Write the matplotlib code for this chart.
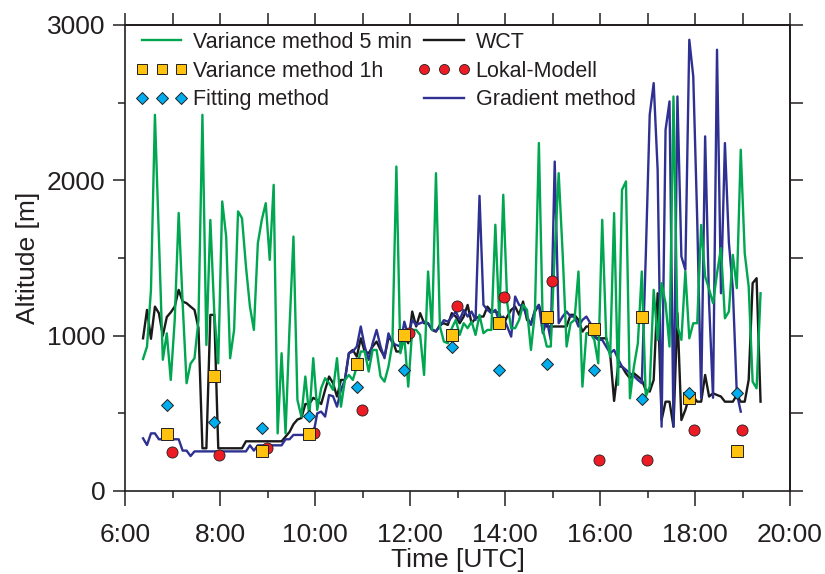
import matplotlib
matplotlib.use("Agg")
import matplotlib.pyplot as plt
from matplotlib import font_manager
from matplotlib.ticker import MultipleLocator, FuncFormatter
import numpy as np

# ---------------- data ----------------
t_start = 6.38          # hours UTC, first 5-min sample
step_h = 5 / 60.0       # 5-minute sampling

var5min = [850, 930, 1295, 2422, 1640, 845, 1015, 715, 1100, 1790, 1210, 694, 820, 855, 1100, 2422, 940, 1745, 1145,
           822, 1864, 1638, 855, 1037, 1800, 1756, 1445, 1187, 1037, 1595, 1746, 1853, 1488, 1971, 371, 887, 371, 1050, 1638, 586,
           479, 737, 479, 855, 522, 661, 726, 694, 651, 855, 543, 715, 747, 715, 801, 898, 898, 769, 908,
           908, 737, 704, 801, 951, 2089, 887, 994, 672, 1037, 1037, 1005, 747, 1413, 1037, 2046, 1059, 962, 951, 1048,
           1101, 1005, 1080, 1048, 1091, 1005, 1134, 1016, 1037, 1037, 1714, 1101, 1907, 1209, 1048, 1048, 1101, 1198, 1166, 908,
           1150, 2240, 1037, 930, 930, 1531, 2046, 1531, 930, 1080, 1101, 1413, 672, 1016, 1016, 973, 822, 1746, 994, 865, 1789,
           683, 1939, 1993, 597, 800, 950, 1413, 608, 672, 1295, 973, 1338, 1209, 930, 2540, 1059, 973, 1413, 983, 1080,
           1080, 1713, 1381, 1300, 1209, 1400, 1563, 1112, 1155, 1520, 1306, 2197, 1531, 1316, 704, 661, 1273]

wct = [983, 1166, 980, 1187, 1145, 1000, 1120, 1150, 1187, 1295, 1220, 1209, 1187, 1166, 1050, 275, 275, 1134, 1134,
       275, 275, 275, 275, 275, 275, 275, 320, 320, 320, 320, 320, 320, 320, 320, 320, 320,
       350, 380, 430, 460, 470, 560, 560, 600, 585, 560, 651, 737, 694, 608, 715, 715, 887, 908, 865, 983, 898, 887, 930,
       962, 908, 865, 983, 973, 898, 898, 994, 951, 1155, 1059, 1145, 1080, 1080, 1037, 1026, 1069, 1080, 1069, 1145,
       1123, 1080, 1123, 1198, 1080, 1112, 1123, 1123, 1187, 1155, 1155, 1145, 1069, 1123, 1166, 1187, 1134, 1220, 1101, 1080,
       1155, 1198, 1101, 1059, 1059, 1059, 1059, 1059, 1059, 1134, 1134, 1101, 1026, 1059, 1059, 994, 983, 983, 983, 887,
       580, 801, 801, 758, 726, 758, 737, 715, 650, 640, 715, 1273, 457, 575, 575, 414, 1145, 457, 522, 608, 608,
       575, 575, 747, 608, 629, 618, 608, 575, 575, 575, 618, 575, 575, 715, 1338, 1370, 575]

gradient = [339, 296, 371, 371, 333, 333, 333, 333, 333, 333, 260, 260, 225, 255,
            255, 255, 255, 255, 255, 255, 255, 255, 255, 255, 255, 255, 255,
            294, 260, 294, 294, 294, 294, 294, 294, 294, 333, 333,
            361, 361, 361, 361, 361, 361,
            500, 511, 479, 618, 610, 543, 651, 715, 887, 898, 930, 1059, 930, 844, 951,
            1037, 930, 855, 1015, 951, 940, 930, 1090, 1000, 1100, 1070, 1080, 1090, 1080, 1040, 1030, 1060, 1100, 1090, 1120,
            1155, 1101, 1166, 1123, 1155, 1101, 1900, 1198, 1166, 1145, 1166, 1091, 1123, 1059, 994, 1252, 1198, 1187, 1123, 1069,
            1166, 1198, 1016, 1101, 973, 2121, 1080, 1123, 1155, 1123, 1123, 1059, 1101, 1123, 1080, 994, 973, 973, 930, 887,
            908, 850, 801, 780, 758, 740, 715, 694, 1510, 2422, 2626, 2068, 414, 2325, 2508, 414, 2540, 1510, 1424,
            2905, 2669, 1746, 600, 2283, 1209, 600, 2841, 1273, 2240, 1600, 1300, 629, 511]

hour_marks = [7, 8, 9, 10, 11, 12, 13, 14, 15, 16, 17, 18, 19]
var1h = [367, 742, 258, 369, 818, 1005, 1005, 1080, 1119, 1041, 1119, 597, 258]
fitting = [554, 442, 406, 483, 668, 779, 930, 779, 818, 779, 593, 633, 633]
lokal = [251, 230, 275, 375, 522, 1015, 1194, 1248, 1355, 200, 200, 393, 393]

# ---------------- style ----------------
names = {f.name for f in font_manager.fontManager.ttflist}
FONT = 'Liberation Sans' if 'Liberation Sans' in names else 'DejaVu Sans'
plt.rcParams['font.family'] = [FONT, 'DejaVu Sans']
fs_tick, fs_leg = 19, 15.5

GREEN = '#00a650'
BLUE = '#2e3192'
YELLOW = '#ffc20e'
CYAN = '#00aeef'
RED = '#ed1c24'
EDGE = '#231f20'

fig = plt.figure(figsize=(8.25, 5.74), dpi=100)
ax = fig.add_axes([125 / 825, 1 - 491 / 574, 665 / 825, 466 / 574])

t5 = t_start + step_h * np.arange(len(var5min))
t_wct = t_start + step_h * np.arange(len(wct))
t_grad = t_start + step_h * np.arange(len(gradient))
t_1h = np.array(hour_marks) - 7 / 60.0
t_lm = np.array(hour_marks) - 1 / 60.0

lw = 1.7
l_g, = ax.plot(t5, var5min, color=GREEN, lw=lw, zorder=4, label='Variance method 5 min')
l_b, = ax.plot(t_wct, wct, color='#1a1a1a', lw=lw, zorder=2, label='WCT')
l_bl, = ax.plot(t_grad, gradient, color=BLUE, lw=lw, zorder=3, label='Gradient method')
m_lm, = ax.plot(t_lm, lokal, ls='none', marker='o', ms=8, mfc=RED, mec=EDGE, mew=0.6, zorder=5,
                label='Lokal-Modell')
m_sq, = ax.plot(t_1h, var1h, ls='none', marker='s', ms=8, mfc=YELLOW, mec=EDGE, mew=0.7, zorder=6,
                label='Variance method 1h')
m_fit, = ax.plot(t_1h, fitting, ls='none', marker='D', ms=6.5, mfc=CYAN, mec=EDGE, mew=0.7, zorder=7,
                 label='Fitting method')

ax.set_xlim(6, 20)
ax.set_ylim(0, 3000)
ax.xaxis.set_major_locator(MultipleLocator(2))
ax.xaxis.set_minor_locator(MultipleLocator(1))
ax.xaxis.set_major_formatter(FuncFormatter(lambda v, p: f"{int(round(v))}:00"))
ax.yaxis.set_major_locator(MultipleLocator(1000))
ax.yaxis.set_minor_locator(MultipleLocator(500))

for s in ax.spines.values():
    s.set_linewidth(1.2)
    s.set_color(EDGE)

ax.tick_params(which='major', direction='out', length=9, width=1.1, labelsize=fs_tick, pad=5,
               color=EDGE, labelcolor=EDGE)
ax.tick_params(which='minor', direction='out', length=5, width=1.1, color=EDGE)
ax.tick_params(axis='x', which='major', length=11, pad=12)

sec_x = ax.secondary_xaxis('top')
sec_x.xaxis.set_major_locator(MultipleLocator(1))
sec_x.tick_params(direction='out', length=9, width=1.1, labeltop=False, color=EDGE)
sec_x.spines['top'].set_linewidth(1.2)

sec_y = ax.secondary_yaxis('right')
sec_y.yaxis.set_major_locator(MultipleLocator(500))
sec_y.tick_params(direction='out', length=9, width=1.1, labelright=False, color=EDGE)
sec_y.spines['right'].set_linewidth(1.2)

ax.set_xlabel('Time [UTC]', fontsize=fs_tick, color=EDGE, labelpad=1)
ax.set_ylabel('Altitude [m]', fontsize=fs_tick, color=EDGE, labelpad=5)

handles = [l_g, m_sq, m_fit, l_b, m_lm, l_bl]
leg = ax.legend(handles=handles, loc='upper left', bbox_to_anchor=(0.012, 0.99), ncol=2,
                frameon=False, fontsize=fs_leg, numpoints=3, handlelength=2.45, handletextpad=0.25,
                columnspacing=0.25, labelspacing=0.36, borderpad=0.1, borderaxespad=0,
                markerscale=0.9)
for txt in leg.get_texts():
    txt.set_color(EDGE)

fig.savefig('out.png', dpi=100)
